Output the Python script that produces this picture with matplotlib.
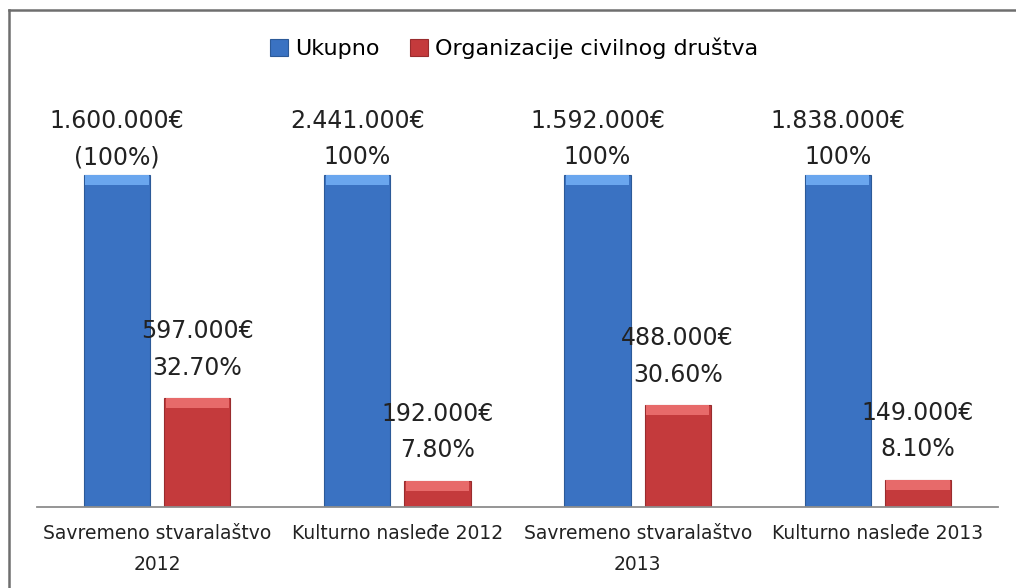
import numpy as np
import matplotlib
matplotlib.use("Agg")
import matplotlib.pyplot as plt
from matplotlib.lines import Line2D

categories = ["Savremeno stvaralaštvo\n2012", "Kulturno nasleđe 2012",
              "Savremeno stvaralaštvo\n2013", "Kulturno nasleđe 2013"]
ukupno_eur = ["1.600.000€", "2.441.000€", "1.592.000€", "1.838.000€"]
ukupno_pct = [100, 100, 100, 100]
ukupno_pct_lbl = ["(100%)", "100%", "100%", "100%"]
ocd_eur = ["597.000€", "192.000€", "488.000€", "149.000€"]
ocd_pct = [32.7, 7.8, 30.6, 8.1]

plt.rcParams['font.family'] = ['DejaVu Sans']

W, H = 1016, 588
fig = plt.figure(figsize=(W / 100, H / 100), dpi=100)
# axes in pixel terms: x 37..998, baseline at y=507, top y=80
ax = fig.add_axes([37 / W, 1 - 507 / H, (998 - 37) / W, (507 - 80) / H])

x = np.arange(len(categories))
bw = 0.275
off = 0.167
blue, blue_hi, blue_ed = "#3a72c2", "#6aa6ee", "#2c5a98"
red, red_hi, red_ed = "#c43a3c", "#e76a6a", "#992c2e"

ymax = 100 * (507 - 80) / (507 - 175)
strip = ymax * 10 / (507 - 80)

b1 = ax.bar(x - off, ukupno_pct, bw, color=blue, edgecolor=blue_ed, linewidth=0.8,
            label="Ukupno", zorder=2)
ax.bar(x - off, [strip] * len(x), bw * 0.96, bottom=np.array(ukupno_pct) - strip,
       color=blue_hi, linewidth=0, zorder=3)
b2 = ax.bar(x + off, ocd_pct, bw, color=red, edgecolor=red_ed, linewidth=0.8,
            label="Organizacije civilnog društva", zorder=2)
ax.bar(x + off, [strip] * len(x), bw * 0.96, bottom=np.array(ocd_pct) - strip,
       color=red_hi, linewidth=0, zorder=3)

for i in range(len(x)):
    ax.annotate(ukupno_eur[i] + "\n" + ukupno_pct_lbl[i], (x[i] - off, ukupno_pct[i]),
                xytext=(0, 4), textcoords="offset points", ha="center", va="bottom",
                fontsize=17, color="#222222", linespacing=1.65)
    ax.annotate(ocd_eur[i] + "\n" + f"{ocd_pct[i]:.2f}%", (x[i] + off, ocd_pct[i]),
                xytext=(0, 13.5), textcoords="offset points", ha="center", va="bottom",
                fontsize=17, color="#222222", linespacing=1.65)

ax.set_xlim(-0.5, len(x) - 0.5)
ax.set_ylim(0, ymax)
ax.set_xticks(x)
ax.set_xticklabels(categories, fontsize=13.5, color="#222222", linespacing=1.78)
ax.tick_params(axis="x", length=0, pad=12.5)
ax.set_yticks([])
for s in ["top", "right", "left"]:
    ax.spines[s].set_visible(False)
ax.spines["bottom"].set_color("#8c8c8c")
ax.spines["bottom"].set_linewidth(1.3)

fig.legend(handles=[b1, b2], loc="center", bbox_to_anchor=(514 / W, 1 - 48 / H),
           ncol=2, frameon=False, fontsize=16, handlelength=0.8, handleheight=0.8,
           handletextpad=0.3, columnspacing=1.4)

# outer frame (top and left edges visible)
fig.add_artist(Line2D([9 / W, 9 / W], [0, 1 - 10 / H], transform=fig.transFigure,
                      color="#6e6e6e", linewidth=1.8))
fig.add_artist(Line2D([9 / W, 1], [1 - 10 / H, 1 - 10 / H], transform=fig.transFigure,
                      color="#6e6e6e", linewidth=1.8))

fig.savefig("out.png", dpi=100)
